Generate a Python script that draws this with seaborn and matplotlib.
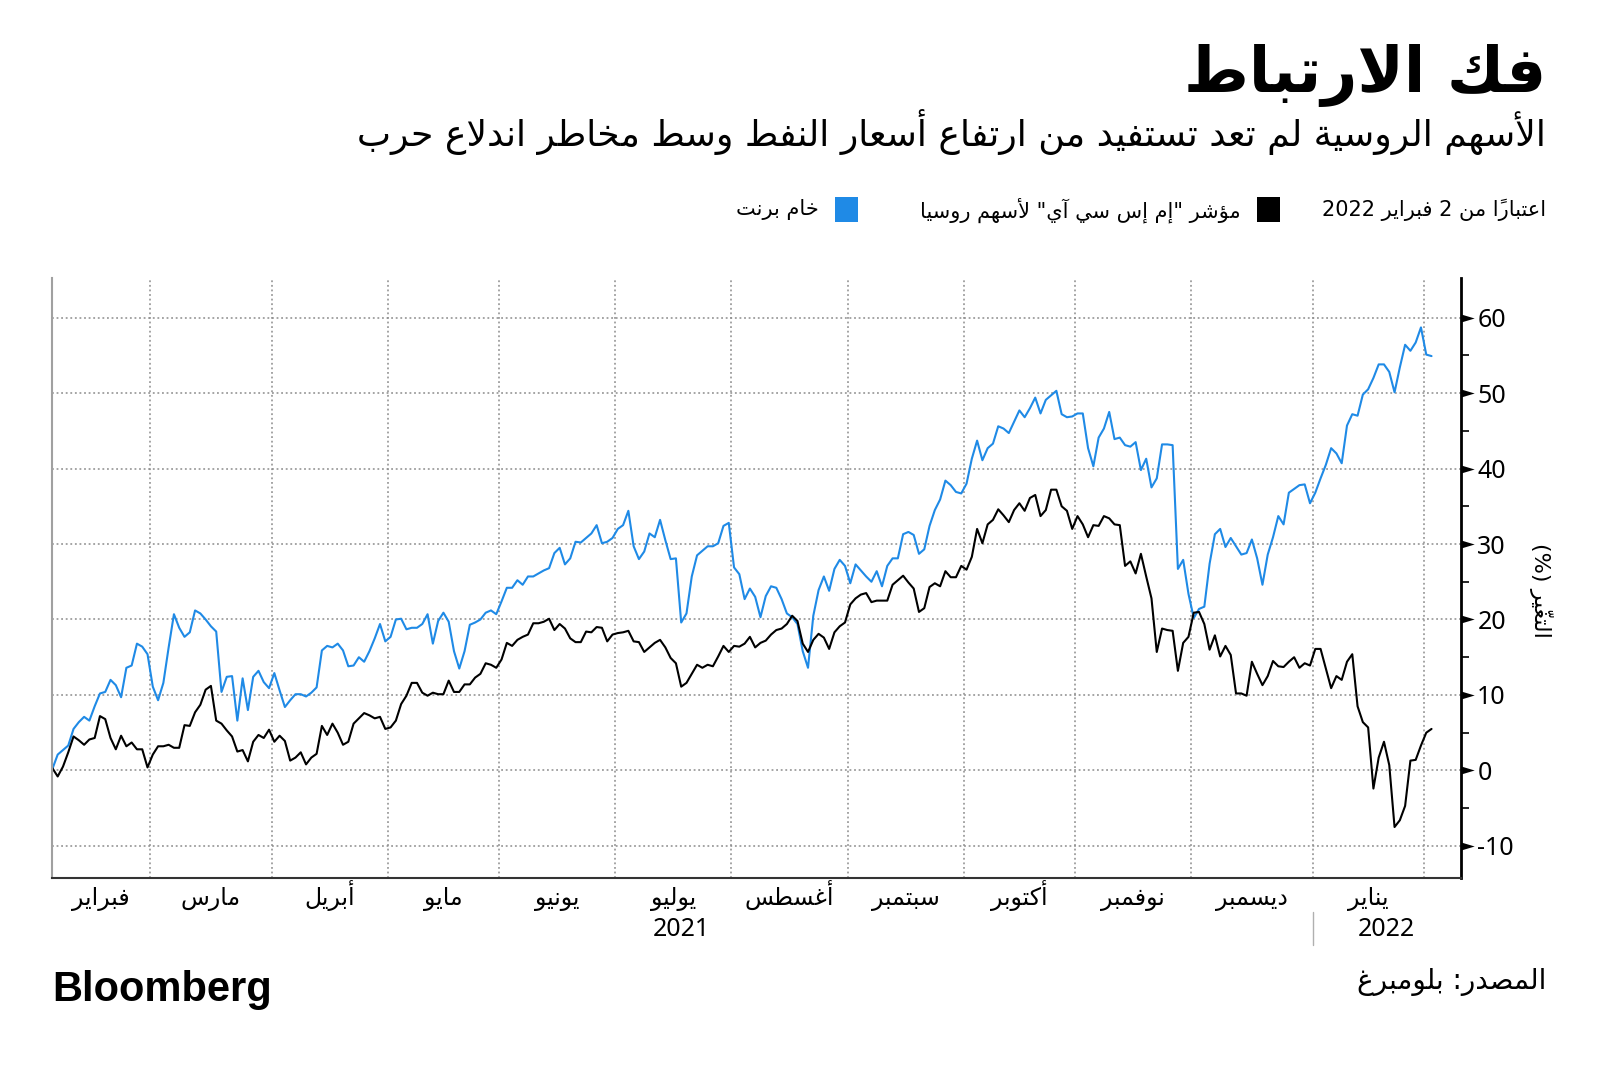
import numpy as np
import pandas as pd
import matplotlib
matplotlib.use("Agg")
import matplotlib.pyplot as plt
import seaborn as sns
from matplotlib.patches import Rectangle
from matplotlib.transforms import blended_transform_factory

# ---------------- data (percent change, one value per business day from 2 Feb 2021) ----------------
START_DATE = "2021-02-02"

brent_pct = [
    0.2, 2.1, 2.7, 3.3, 5.5, 6.4, 7.1, 6.6, 8.5, 10.2, 10.4, 12.0, 11.3, 9.7, 13.6, 13.9, 16.8, 16.4, 15.4,
    11.1, 9.3, 11.6, 16.3, 20.7, 18.9, 17.7, 18.3, 21.2, 20.8, 20.0, 19.1, 18.4, 10.4, 12.4, 12.5, 6.6, 12.2, 8.0,
    12.4, 13.2, 11.7, 10.9, 12.9, 10.6, 8.4, 9.3, 10.1, 10.1, 9.8, 10.3, 11.0, 15.9, 16.5, 16.3, 16.8, 15.9, 13.8,
    13.9, 15.0, 14.4, 15.8, 17.5, 19.4, 17.1, 17.7, 20.0, 20.1, 18.7, 18.9, 18.9, 19.4, 20.7, 16.8, 19.8, 20.9, 19.7,
    15.8, 13.5, 15.8, 19.3, 19.6, 20.0, 20.9, 21.2, 20.7, 22.4, 24.2, 24.2, 25.2, 24.6, 25.7, 25.7, 26.1, 26.5, 26.8,
    28.8, 29.5, 27.3, 28.1, 30.3, 30.2, 30.8, 31.4, 32.5, 30.1, 30.3, 30.8, 32.0, 32.5, 34.4, 29.7, 28.0, 29.0, 31.4,
    30.9, 33.2, 30.5, 28.0, 28.1, 19.6, 20.8, 25.7, 28.5, 29.1, 29.7, 29.7, 30.1, 32.4, 32.8, 26.9, 26.0, 22.7, 24.1,
    23.0, 20.3, 23.1, 24.4, 24.2, 22.7, 20.8, 20.3, 19.4, 15.8, 13.6, 20.5, 23.9, 25.7, 23.8, 26.7, 27.9, 27.1,
    24.8, 27.3, 26.5, 25.7, 25.0, 26.4, 24.4, 27.1, 28.1, 28.1, 31.3, 31.6, 31.2, 28.7, 29.3, 32.4, 34.5, 35.9, 38.4,
    37.8, 36.9, 36.7, 38.0, 41.3, 43.7, 41.1, 42.7, 43.3, 45.6, 45.3, 44.7, 46.2, 47.7, 46.8, 48.0, 49.4, 47.3, 49.1,
    49.7, 50.3, 47.2, 46.8, 46.9, 47.3, 47.3, 42.7, 40.3, 44.1, 45.3, 47.5, 43.9, 44.1, 43.1, 42.9, 43.5, 39.8, 41.3,
    37.5, 38.7, 43.2, 43.2, 43.1, 26.7, 27.9, 23.4, 20.2, 21.4, 21.7, 27.4, 31.3, 32.0, 29.6, 30.8, 29.7, 28.6, 28.8,
    30.6, 28.1, 24.6, 28.6, 30.9, 33.7, 32.6, 36.8, 37.3, 37.8, 37.9, 35.4, 36.8, 38.7, 40.5, 42.7, 42.0, 40.7, 45.7,
    47.2, 47.0, 49.8, 50.5, 52.0, 53.8, 53.8, 52.8, 50.1, 53.4, 56.4, 55.6, 56.7, 58.7, 55.1, 54.9,
]

msci_russia_pct = [
    0.3, -0.8, 0.5, 2.4, 4.5, 4.0, 3.4, 4.1, 4.3, 7.2, 6.8, 4.3, 2.8, 4.6, 3.2, 3.7, 2.8, 2.8, 0.4,
    2.1, 3.2, 3.2, 3.4, 3.0, 3.0, 6.0, 5.9, 7.7, 8.7, 10.7, 11.2, 6.6, 6.2, 5.3, 4.5, 2.5, 2.7, 1.2,
    3.8, 4.7, 4.3, 5.4, 3.8, 4.6, 3.9, 1.3, 1.7, 2.4, 0.8, 1.7, 2.2, 5.9, 4.7, 6.2, 5.0, 3.4, 3.8,
    6.2, 6.9, 7.6, 7.3, 6.9, 7.1, 5.5, 5.7, 6.6, 8.8, 9.9, 11.6, 11.6, 10.3, 9.9, 10.3, 10.1, 10.1, 11.9,
    10.4, 10.4, 11.4, 11.4, 12.3, 12.8, 14.2, 14.0, 13.6, 14.7, 16.9, 16.5, 17.3, 17.7, 18.0, 19.5, 19.5, 19.7, 20.1,
    18.6, 19.4, 18.8, 17.5, 17.0, 17.0, 18.4, 18.3, 19.0, 18.9, 17.1, 18.0, 18.2, 18.3, 18.5, 17.1, 17.0, 15.7, 16.3,
    16.9, 17.3, 16.3, 14.9, 14.2, 11.1, 11.6, 12.8, 14.0, 13.6, 14.0, 13.8, 15.1, 16.5, 15.7, 16.5, 16.4, 16.8, 17.7,
    16.3, 16.9, 17.2, 18.0, 18.6, 18.8, 19.4, 20.5, 19.8, 16.8, 15.7, 17.3, 18.1, 17.6, 16.1, 18.3, 19.1, 19.6,
    22.0, 22.8, 23.3, 23.5, 22.3, 22.5, 22.5, 22.5, 24.6, 25.2, 25.8, 24.9, 24.1, 21.0, 21.5, 24.3, 24.8, 24.4, 26.4,
    25.6, 25.6, 27.1, 26.6, 28.3, 32.0, 30.1, 32.6, 33.2, 34.6, 33.8, 32.9, 34.5, 35.4, 34.4, 36.1, 36.5, 33.7, 34.5,
    37.2, 37.2, 35.0, 34.4, 32.0, 33.7, 32.6, 30.9, 32.5, 32.4, 33.7, 33.4, 32.6, 32.5, 27.1, 27.7, 26.1, 28.7, 25.7,
    22.8, 15.7, 18.8, 18.6, 18.5, 13.2, 16.9, 17.7, 20.9, 21.0, 19.4, 16.0, 17.9, 15.1, 16.5, 15.3, 10.2, 10.2, 9.9,
    14.4, 12.8, 11.3, 12.5, 14.5, 13.8, 13.7, 14.4, 15.0, 13.6, 14.2, 13.9, 16.1, 16.1, 13.5, 10.9, 12.5, 12.0, 14.4,
    15.4, 8.5, 6.4, 5.7, -2.4, 1.7, 3.8, 0.7, -7.5, -6.6, -4.7, 1.3, 1.4, 3.3, 5.0, 5.5,
]

month_labels = ["فبراير", "مارس", "أبريل", "مايو", "يونيو", "يوليو", "أغسطس",
                "سبتمبر", "أكتوبر", "نوفمبر", "ديسمبر", "يناير"]
year_labels = ["2021", "2022"]
y_ticks = [-10, 0, 10, 20, 30, 40, 50, 60]
y_minor_ticks = [-5, 5, 15, 25, 35, 45, 55]

title_text = "فك الارتباط"
subtitle_text = "الأسهم الروسية لم تعد تستفيد من ارتفاع أسعار النفط وسط مخاطر اندلاع حرب"
asof_text = "اعتباراً من 2 فبراير 2022"
msci_name = 'مؤشر "إم إس سي آي" لأسهم روسيا'
brent_name = "خام برنت"
ylabel_text = "التغيّر (%)"
source_text = "المصدر: بلومبرغ"

BLUE = "#1F8AE6"
BLACK = "#000000"

# ---------------- Arabic shaping + right-to-left ordering ----------------
_FOUR = {'ئ': 0xFE89, 'ب': 0xFE8F, 'ت': 0xFE95, 'ث': 0xFE99, 'ج': 0xFE9D, 'ح': 0xFEA1, 'خ': 0xFEA5,
         'س': 0xFEB1, 'ش': 0xFEB5, 'ص': 0xFEB9, 'ض': 0xFEBD, 'ط': 0xFEC1, 'ظ': 0xFEC5, 'ع': 0xFEC9,
         'غ': 0xFECD, 'ف': 0xFED1, 'ق': 0xFED5, 'ك': 0xFED9, 'ل': 0xFEDD, 'م': 0xFEE1, 'ن': 0xFEE5,
         'ه': 0xFEE9, 'ي': 0xFEF1}
_TWO = {'آ': 0xFE81, 'أ': 0xFE83, 'ؤ': 0xFE85, 'إ': 0xFE87, 'ا': 0xFE8D, 'ة': 0xFE93, 'د': 0xFEA9,
        'ذ': 0xFEAB, 'ر': 0xFEAD, 'ز': 0xFEAF, 'و': 0xFEED, 'ى': 0xFEEF}
_LAM_ALEF = {'آ': 0xFEF5, 'أ': 0xFEF7, 'إ': 0xFEF9, 'ا': 0xFEFB}
_MIRROR = {'(': ')', ')': '(', '[': ']', ']': '[', '«': '»', '»': '«'}


def _is_mark(c):
    return '\u064B' <= c <= '\u065F' or c == '\u0670'


def _is_letter(c):
    return c in _FOUR or c in _TWO or c == 'ء'


def _shape(text):
    n = len(text)
    out = []
    prev_joins = False
    i = 0
    while i < n:
        c = text[i]
        if not _is_letter(c):
            out.append(c)
            if not _is_mark(c):
                prev_joins = False
            i += 1
            continue
        j = i + 1
        marks = []
        while j < n and _is_mark(text[j]):
            marks.append(text[j])
            j += 1
        if c == 'ل' and j < n and text[j] in _LAM_ALEF:
            g = _LAM_ALEF[text[j]] + (1 if prev_joins else 0)
            k = j + 1
            marks2 = []
            while k < n and _is_mark(text[k]):
                marks2.append(text[k])
                k += 1
            out.append(chr(g))
            out.extend(marks + marks2)
            prev_joins = False
            i = k
            continue
        nxt = text[j] if j < n else None
        if c in _FOUR:
            base = _FOUR[c]
            can_next = nxt is not None and _is_letter(nxt) and nxt != 'ء'
            if prev_joins and can_next:
                g = base + 3
            elif prev_joins:
                g = base + 1
            elif can_next:
                g = base + 2
            else:
                g = base
        elif c in _TWO:
            base = _TWO[c]
            can_next = False
            g = base + 1 if prev_joins else base
        else:
            can_next = False
            g = 0xFE80
        out.append(chr(g))
        out.extend(marks)
        prev_joins = can_next
        i = j
    return ''.join(out)


def ar(text):
    shaped = _shape(text)
    clusters = []
    for ch in shaped:
        if _is_mark(ch) and clusters:
            clusters[-1] += ch
        else:
            clusters.append(ch)
    runs = []
    for cl in clusters:
        ltr = cl[0].isascii() and cl[0].isalnum()
        if runs and runs[-1][0] == ltr:
            runs[-1][1].append(cl)
        else:
            runs.append((ltr, [cl]))
    out = []
    for ltr, cls in reversed(runs):
        if ltr:
            out.extend(cls)
        else:
            out.extend(_MIRROR.get(c, c) for c in reversed(cls))
    return ''.join(out)


# ---------------- build table ----------------
n = min(len(brent_pct), len(msci_russia_pct))
dates = pd.bdate_range(START_DATE, periods=n)
pos = np.arange(n)
df = pd.concat([
    pd.DataFrame({"pos": pos, "date": dates, "value": brent_pct[:n], "series": "brent"}),
    pd.DataFrame({"pos": pos, "date": dates, "value": msci_russia_pct[:n], "series": "msci"}),
])

month_first = [i for i in range(1, n) if dates[i].month != dates[i - 1].month]
bounds = [i - 0.5 for i in month_first]          # boundaries Mar 2021 ... Feb 2022
edges = [0.0] + bounds
mids = [(edges[k] + edges[k + 1]) / 2 for k in range(len(month_labels))]

# ---------------- figure ----------------
sns.set_style("white")
plt.rcParams["font.family"] = ["DejaVu Sans"]
plt.rcParams["text.color"] = "black"
plt.rcParams["xtick.color"] = "black"
plt.rcParams["ytick.color"] = "black"
plt.rcParams["axes.labelcolor"] = "black"

W, H = 1600, 1069
fig = plt.figure(figsize=(W / 100, H / 100), dpi=100)
fig.patch.set_facecolor("white")

ax_left, ax_right, ax_top, ax_bottom = 52.4, 1460.6, 277.6, 877.6
ax = fig.add_axes([ax_left / W, 1 - ax_bottom / H, (ax_right - ax_left) / W, (ax_bottom - ax_top) / H])

sns.lineplot(data=df, x="pos", y="value", hue="series", hue_order=["brent", "msci"],
             palette={"brent": BLUE, "msci": BLACK}, estimator=None, legend=False,
             linewidth=1.5, ax=ax)

ax.set_xlim(0, 266.5)
ax.set_ylim(-14.2, 65.3)
ax.set_xlabel("")
ax.set_ylabel("")

# y axis on the right
ax.yaxis.tick_right()
ax.set_yticks(y_ticks)
ax.set_yticklabels(["-10" if v < 0 else str(v) for v in y_ticks], fontsize=18, family=["Noto Sans"],
                   color="black")
ax.set_yticks(y_minor_ticks, minor=True)
ax.tick_params(axis="y", which="major", length=19, width=1, color="black", pad=-7, direction="out")
ax.tick_params(axis="y", which="minor", length=6, width=1.2, color="black", direction="out")
tri = [(0, -0.6), (0, 0.6), (2, 0)]
for t in ax.yaxis.get_major_ticks():
    t.tick2line.set_marker(tri)
    t.tick2line.set_markerfacecolor("black")
    t.tick2line.set_markeredgecolor("black")
    t.tick2line.set_markeredgewidth(0)

# x axis
ax.set_xticks(mids)
ax.set_xticklabels([ar(m) for m in month_labels], fontsize=17, color="black")
ax.set_xticks(bounds, minor=True)
ax.tick_params(axis="x", which="major", length=0, pad=20)
ax.tick_params(axis="x", which="minor", length=9, width=1, color="#9a9a9a", direction="out")
for lbl in ax.get_xticklabels():
    lbl.set_verticalalignment("baseline")

ax.grid(False)
ax.yaxis.grid(True, which="major", linestyle=(0, (1.2, 1.8)), color="#8c8c8c", linewidth=1.1)
ax.xaxis.grid(True, which="minor", linestyle=(0, (1.2, 1.8)), color="#8c8c8c", linewidth=1.1)
ax.set_axisbelow(True)

ax.spines["top"].set_visible(False)
ax.spines["right"].set_color("black")
ax.spines["right"].set_linewidth(2)
ax.spines["left"].set_color("#a0a0a0")
ax.spines["left"].set_linewidth(1.5)
ax.spines["bottom"].set_color("#333333")
ax.spines["bottom"].set_linewidth(1.5)

# year labels + separator
trans = blended_transform_factory(ax.transData, ax.transAxes)
jul_idx, jan_idx = 5, 11
ax.text(mids[jul_idx] + 1.5, -0.086, year_labels[0], transform=trans, ha="center", va="center",
        fontsize=18, family=["Noto Sans"], color="black")
ax.text(mids[jan_idx] + 3.5, -0.086, year_labels[1], transform=trans, ha="center", va="center",
        fontsize=18, family=["Noto Sans"], color="black")
ax.plot([bounds[jan_idx - 1]] * 2, [-0.058, -0.112], transform=trans, color="#b0b0b0",
        linewidth=1, clip_on=False)

# y label
fig.text(1541 / W, 1 - 590 / H, ar(ylabel_text), rotation=270, ha="center", va="center", fontsize=16,
         color="black")

# titles
RX = 1546 / W
fig.text(RX, 1 - 92 / H, ar(title_text), ha="right", va="baseline", fontsize=45, fontweight="bold",
         color="black")
fig.text(RX, 1 - 146 / H, ar(subtitle_text), ha="right", va="baseline", fontsize=26, color="black")

# legend row
ly = 1 - 210 / H
fig.text(RX, ly, ar(asof_text), ha="right", va="center", fontsize=15, color="black")
sq_h = 25 / H
sq_w = 23 / W
fig.patches.append(Rectangle((1257 / W, ly - sq_h / 2), sq_w, sq_h, transform=fig.transFigure,
                             facecolor=BLACK, edgecolor="none"))
fig.text(1241 / W, ly, ar(msci_name), ha="right", va="center", fontsize=15, color="black")
fig.patches.append(Rectangle((835 / W, ly - sq_h / 2), sq_w, sq_h, transform=fig.transFigure,
                             facecolor=BLUE, edgecolor="none"))
fig.text(819 / W, ly, ar(brent_name), ha="right", va="center", fontsize=15, color="black")

# footer
fig.text(RX, 1 - 982 / H, ar(source_text), ha="right", va="center", fontsize=20, color="black")
fig.text(52 / W, 1 - 990 / H, "Bloomberg", ha="left", va="center", fontsize=30, color="black",
         fontweight="heavy", family=["Liberation Sans", "DejaVu Sans"])

fig.savefig("out.png", dpi=100, facecolor="white")
